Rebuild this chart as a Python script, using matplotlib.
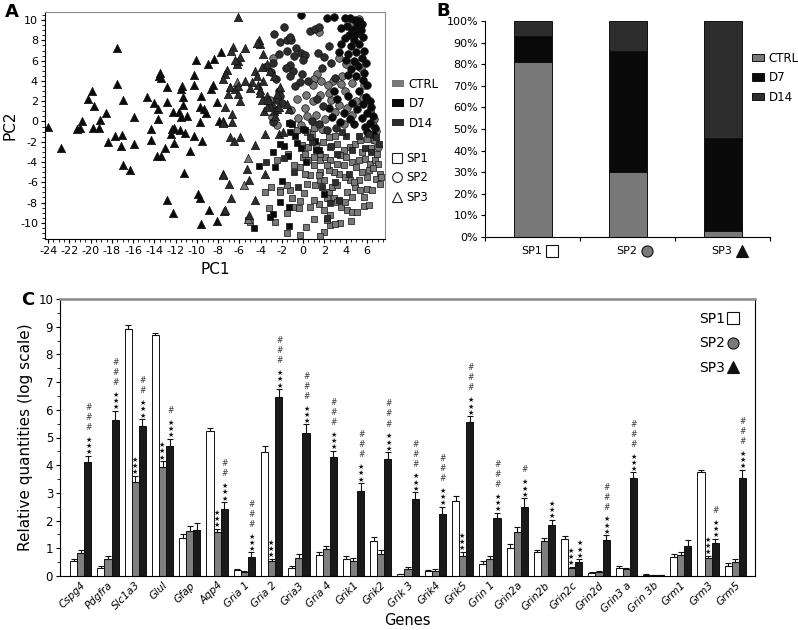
import numpy as np
import matplotlib.pyplot as plt
from matplotlib.lines import Line2D
from matplotlib.patches import Patch
from matplotlib.ticker import MultipleLocator, FuncFormatter
from matplotlib.transforms import blended_transform_factory

plt.rcParams.update({"font.family": "DejaVu Sans", "axes.unicode_minus": False,
                     "xtick.major.size": 3, "ytick.major.size": 3,
                     "xtick.minor.size": 2, "ytick.minor.size": 2,
                     "axes.linewidth": 0.8})

# ---------------- A: PCA scores (PC1, PC2) ----------------
# SP3 (triangles)
sp3_ctrl = np.array([(-6.2, 3.9), (-5.15, -3.57), (-5.56, -6.29), (-6.9, 3.4), (-5.15, -9.67)])
sp3_d7 = np.array([
    (-24.0, -0.56), (-22.77, -2.62), (-21.27, -0.73), (-20.96, -0.66), (-20.8, 0.03),
    (-19.85, 3.05), (-20.23, 2.23), (-19.72, 1.51), (-19.75, -0.69), (-19.16, 0.10),
    (-19.19, -0.62), (-18.53, 0.82), (-18.34, -2.03), (-17.52, 7.21), (-17.52, 3.70),
    (-16.93, 2.13), (-17.74, -1.40), (-17.05, -1.33), (-17.15, -2.47), (-16.99, -4.30),
    (-16.3, -4.79), (-15.92, 0.43), (-15.92, -2.19), (-14.67, 2.46), (-14.0, 1.80),
    (-13.63, 1.18), (-13.63, 0.26), (-14.29, -0.79), (-14.29, -1.80), (-13.5, 4.78),
    (-13.57, 4.45), (-13.41, 4.32), (-12.78, 3.40), (-12.78, 1.93), (-12.21, 0.95),
    (-11.68, 0.95), (-11.52, 3.24), (-11.43, 3.5), (-11.27, 2.46), (-11.33, 1.64),
    (-11.46, 0.43), (-10.95, 0.49), (-12.3, -0.72), (-12.15, -0.62), (-11.58, -0.82),
    (-11.14, -1.15), (-12.46, -1.21), (-12.99, -2.59), (-12.14, -2.13), (-13.73, -3.37),
    (-13.41, -3.44), (-11.2, -5.08), (-10.64, -2.88), (-10.26, -1.47), (-9.57, -1.93),
    (-10.26, 4.55), (-10.32, 3.63), (-10.1, 6.03), (-9.63, 2.52), (-9.75, 1.44),
    (-9.69, -0.03), (-9.32, 1.18), (-9.13, 0.85), (-9.0, 5.7), (-8.41, 6.13),
    (-8.69, 3.17), (-8.53, 3.57), (-8.12, 1.93), (-7.96, 0.07), (-7.58, -0.1),
    (-7.74, 6.82), (-7.58, -5.21), (-12.78, -7.8), (-12.21, -9.0), (-9.88, -7.2),
    (-9.72, -7.6), (-9.63, -10.1), (-8.85, -8.7), (-8.12, -9.8), (-7.43, -8.8)])
sp3_d14 = np.array([
    (-6.09, 10.33), (-6.56, 7.37), (-5.46, 7.24), (-6.82, 6.98), (-4.2, 8.03),
    (-4.05, 7.64), (-4.36, 7.7), (-3.74, 6.66), (-6.09, 6.0), (-5.94, 6.33),
    (-6.25, 5.67), (-6.4, 6.06), (-7.19, 5.08), (-7.35, 4.69), (-4.52, 5.01),
    (-4.36, 4.52), (-3.89, 5.41), (-3.41, 5.67), (-3.1, 5.0), (-2.79, 4.52),
    (-7.57, 4.19), (-7.35, 1.40), (-6.72, 0.75), (-7.5, 0.09), (-6.88, 3.37),
    (-6.41, 3.2), (-6.09, 3.53), (-7.03, 2.71), (-6.09, 2.71), (-5.94, 2.06),
    (-5.46, 4.02), (-4.84, 3.86), (-4.99, 3.3), (-4.21, 3.63), (-4.05, 3.11),
    (-3.74, 4.02), (-4.11, 2.78), (-3.42, 2.55), (-3.89, 2.12), (-3.11, 1.57),
    (-2.79, 1.07), (-2.48, 1.24), (-2.64, 0.58), (-2.23, 1.4), (-1.38, 1.24),
    (-1.54, 1.73), (-2.17, 3.37), (-2.42, 2.71), (-6.72, -0.06), (-7.5, -0.16),
    (-6.88, -1.54), (-6.5, -1.93), (-5.94, -1.54), (-4.52, -2.36), (-5.3, -4.65),
    (-7.5, -5.31), (-6.94, -6.2), (-5.06, -5.8), (-6.82, -7.6), (-7.35, -8.75),
    (-4.52, -7.77), (-5.06, -9.24), (-3.64, -1.21), (-3.58, -5.15), (-2.32, -1.21),
    (-1.91, -1.05), (-3.7, 1.0), (-3.4, 1.4), (-3.3, 2.1)])

# SP2 (circles)
sp2_ctrl = np.array([
    (4.7, 9.7), (5.3, 10.1), (1.5, 8.8), (3.4, 6.3), (4.0, 5.7), (4.9, 5.9), (5.4, 5.3),
    (3.7, 4.5), (2.8, 4.0), (4.6, 3.8), (5.7, 3.6), (1.3, 4.7), (1.0, 4.2), (1.7, 4.0),
    (0.9, 3.6), (2.3, 3.6), (3.9, 3.0), (0.3, 2.6), (0.9, 2.0), (1.6, 2.6), (2.6, 2.1),
    (3.4, 1.6), (4.1, 1.3), (5.0, 2.0), (5.6, 2.3), (6.3, 1.0), (6.7, 0.2), (6.9, -0.9),
    (6.8, -1.8), (7.0, -2.5), (6.6, -0.4), (1.2, 0.6), (2.1, 0.2), (3.0, 0.9), (0.4, 0.5),
    (-0.5, 0.3), (-1.1, 1.1), (-0.2, -0.4), (1.8, -0.7), (3.8, -0.3), (4.6, 0.6),
    (-3.1, 2.1), (-2.8, 6.3), (-2.9, 0.4), (-2.5, -0.4), (-0.6, 2.2), (-1.2, -0.2),
    (0.2, 1.3), (2.4, 2.8), (3.6, 3.7)])
sp2_d7 = np.array([
    (-0.2, 10.5), (2.2, 10.25), (2.9, 10.3), (3.9, 10.2), (4.4, 10.25), (4.9, 10.0),
    (5.3, 9.9), (5.5, 9.6), (5.1, 9.4), (4.1, 9.4), (3.6, 9.2), (4.6, 9.0), (5.4, 9.0),
    (5.0, 8.6), (4.3, 8.5), (3.9, 8.2), (5.6, 8.3), (4.8, 8.0), (5.3, 7.6), (4.5, 7.4),
    (3.6, 7.6), (5.7, 7.0), (5.0, 6.9), (4.2, 6.7), (3.4, 6.9), (5.5, 6.3), (4.8, 6.0),
    (4.0, 6.1), (5.9, 5.8), (5.2, 5.5), (4.5, 5.2), (5.7, 4.8), (5.0, 4.5), (5.6, 4.1),
    (4.2, 4.6), (6.0, 3.6), (5.3, 3.0), (5.9, 2.4), (6.3, 2.0), (5.6, 1.7), (6.4, 1.4),
    (5.1, 1.2), (6.0, 0.8), (6.6, 0.5), (5.5, 0.3), (6.3, -0.2), (6.8, -0.6), (5.8, -0.5),
    (6.6, -1.2), (6.0, -1.0), (4.2, 2.5), (4.6, 1.8), (3.8, 0.8), (4.4, 0.2), (3.5, -0.1),
    (4.8, -0.3), (2.9, 3.0), (3.2, 2.2), (2.4, 1.3), (2.7, 0.4)])
sp2_d14 = np.array([
    (-1.85, 9.35), (-2.7, 8.6), (-2.2, 7.8), (-1.5, 8.0), (-1.1, 8.0), (-1.2, 8.3),
    (0.6, 8.9), (1.1, 9.1), (1.5, 9.3), (-1.5, 7.0), (-0.7, 7.2), (-0.85, 6.5),
    (-0.2, 6.8), (0.2, 6.6), (0.0, 6.1), (-2.3, 6.7), (-2.8, 5.8), (-1.2, 5.6),
    (-1.0, 5.0), (-1.2, 4.5), (-0.1, 4.7), (-0.3, 3.9), (-0.75, 3.5), (-2.3, 3.0),
    (-2.2, 2.55), (-2.5, 2.1), (-2.6, 1.1), (-2.8, -0.1), (-3.6, 5.4), (-3.0, 4.9),
    (-2.6, 4.2), (-1.6, 5.3), (-3.0, 1.6), (-2.0, 1.8), (0.5, 4.0), (1.4, 6.8),
    (2.0, 6.4), (2.4, 7.4), (1.8, 5.3), (2.6, 5.8), (3.0, 4.3), (1.3, 2.2), (1.9, 1.5),
    (0.8, 0.0), (1.5, -0.3), (2.2, -0.8), (3.1, -0.6)])

# SP1 (squares)
sp1_ctrl = np.array([
    (-3.58, -6.95), (-3.04, -6.46), (-5.15, -9.74), (-2.64, -9.9), (-1.54, -11.05),
    (-0.28, -11.21), (0.29, -10.39), (1.92, -10.88), (1.6, -11.31), (2.55, -10.23),
    (2.23, -9.74), (2.55, -9.24), (1.92, -8.75), (1.45, -8.1), (0.98, -7.77), (0.66, -8.49),
    (-0.28, -7.83), (-0.44, -8.59), (0.03, -7.11), (-1.22, -6.79), (-2.17, -6.79),
    (-1.54, -6.29), (-1.07, -7.6), (0.35, -6.13), (1.13, -6.29), (1.6, -5.74), (1.92, -5.8),
    (2.39, -6.95), (2.7, -6.46), (3.18, -6.29), (2.23, -7.51), (2.86, -7.6), (3.18, -7.93),
    (3.55, -8.42), (3.96, -7.93), (4.12, -8.75), (4.59, -8.92), (5.06, -8.92), (5.69, -8.36),
    (4.12, -6.95), (4.59, -7.44), (4.9, -6.46), (5.38, -6.79), (6.0, -6.62), (5.22, -5.74),
    (4.43, -5.74), (3.96, -5.47), (3.33, -5.15), (2.86, -4.98), (2.39, -4.75), (1.6, -4.98),
    (1.45, -5.31), (0.66, -5.31), (0.19, -5.15), (0.98, -4.33), (1.6, -3.83), (2.07, -3.51),
    (2.55, -3.83), (3.18, -4.16), (3.8, -4.33), (4.59, -4.0), (5.22, -3.83), (5.85, -3.67),
    (6.32, -4.16), (6.79, -3.83), (6.95, -3.18), (7.26, -5.15), (6.88, -5.64), (6.0, -5.47),
    (5.53, -4.98), (6.16, -4.75), (2.55, -2.52), (3.18, -2.26), (3.8, -2.85), (4.37, -2.52),
    (4.9, -2.2), (5.38, -1.87), (6.0, -1.7), (6.63, -1.87), (6.79, -1.21), (2.39, -1.54),
    (3.02, -1.47), (1.6, -3.18), (0.98, -3.51), (-0.03, -3.51), (0.41, -3.83), (-0.91, -4.33),
    (-0.28, -4.49), (-0.12, -2.36), (0.41, -2.52), (0.19, -3.18), (-5.0, -9.9), (7.3, -5.5),
    (7.2, -6.2), (6.2, -8.2), (4.5, -9.8), (3.5, -10.0), (3.0, -10.1), (1.0, -9.6),
    (-1.5, -9.0), (-2.2, -7.0), (-3.2, -8.5), (-1.0, -8.4), (6.5, -6.8), (5.7, -7.5),
    (4.8, -6.0), (5.5, -3.0), (6.4, -2.6), (7.0, -4.2), (6.6, -4.6), (5.0, -4.5), (4.0, -3.5),
    (3.5, -3.3), (2.2, -4.3), (1.2, -2.3), (1.9, -2.0), (0.8, -1.2), (-1.4, -3.2),
    (-2.5, -3.8), (-0.6, -0.8), (0.4, -1.0), (1.0, -0.6), (2.0, -0.8)])
sp1_d7 = np.array([
    (-2.17, -2.26), (-2.64, -4.49), (-2.17, -7.93), (-3.11, -9.41), (-2.86, -9.18),
    (-4.62, -10.56), (-1.38, -8.49), (-2.0, -5.87), (-1.38, -10.3), (-1.38, -0.16),
    (-1.07, -0.29), (1.13, -1.93), (1.23, -2.85), (-4.2, -4.4), (-2.8, -3.0),
    (-1.8, -2.4), (-0.8, -1.4), (-0.6, -2.1), (-1.2, -1.0), (0.0, -0.7), (0.2, -0.8),
    (-0.2, -2.6), (0.3, -4.0), (-1.4, -3.4), (1.5, -2.8), (2.0, -7.2)])
sp1_d14 = np.array([
    (2.5, -8.0), (3.4, -7.8), (2.2, -9.5), (-0.5, -6.5), (-1.8, -3.6), (0.8, -2.0),
    (3.2, -3.2), (4.0, -1.4), (5.3, -1.4), (6.2, -1.2), (4.6, -2.8), (5.8, -2.6),
    (6.4, -3.0), (3.0, -6.0), (4.3, -5.2), (-0.9, -5.0), (-3.5, -4.0), (1.8, -6.5),
    (0.6, -1.5), (2.6, -2.4), (3.7, -1.0), (6.9, -1.5), (7.1, -2.2)])

# ---------------- B: composition of subpopulations ----------------
subpops = ["SP1", "SP2", "SP3"]
ctrl_pct = [81, 30, 3]
d7_pct = [12, 56, 43]
d14_pct = [7, 14, 54]

# ---------------- C: qPCR relative quantities ----------------
genes = ["Cspg4", "Pdgfra", "Slc1a3", "Glul", "Gfap", "Aqp4", "Gria 1", "Gria 2", "Gria3",
         "Gria 4", "Grik1", "Grik2", "Grik 3", "Grik4", "Grik5", "Grin 1", "Grin2a", "Grin2b",
         "Grin2c", "Grin2d", "Grin3 a", "Grin 3b", "Grm1", "Grm3", "Grm5"]
sp1_val = [0.55, 0.28, 8.93, 8.70, 1.37, 5.22, 0.20, 4.47, 0.28, 0.75, 0.62, 1.25, 0.06,
           0.18, 2.70, 0.44, 1.00, 0.85, 1.34, 0.11, 0.29, 0.04, 0.70, 3.74, 0.36]
sp2_val = [0.82, 0.62, 3.40, 3.95, 1.62, 1.58, 0.15, 0.53, 0.65, 0.97, 0.55, 0.80, 0.25,
           0.18, 0.73, 0.61, 1.60, 1.26, 0.28, 0.14, 0.25, 0.02, 0.75, 0.64, 0.49]
sp3_val = [4.10, 5.62, 5.42, 4.70, 1.65, 2.42, 0.70, 6.45, 5.15, 4.28, 3.08, 4.22, 2.77,
           2.25, 5.57, 2.09, 2.48, 1.83, 0.50, 1.30, 3.54, 0.02, 1.10, 1.20, 3.54]
sp1_err = [0.08, 0.07, 0.12, 0.06, 0.15, 0.13, 0.06, 0.22, 0.08, 0.13, 0.12, 0.17, 0.03,
           0.05, 0.20, 0.10, 0.15, 0.10, 0.10, 0.03, 0.06, 0.02, 0.10, 0.10, 0.10]
sp2_err = [0.12, 0.12, 0.22, 0.20, 0.20, 0.13, 0.04, 0.10, 0.13, 0.13, 0.10, 0.13, 0.07,
           0.06, 0.15, 0.10, 0.17, 0.10, 0.06, 0.05, 0.05, 0.01, 0.10, 0.10, 0.12]
sp3_err = [0.25, 0.35, 0.25, 0.25, 0.28, 0.25, 0.15, 0.30, 0.32, 0.25, 0.28, 0.25, 0.25,
           0.25, 0.20, 0.20, 0.33, 0.20, 0.10, 0.17, 0.20, 0.01, 0.20, 0.15, 0.30]
# significance marks: stars vs SP1, hashes vs SP2
sp2_stars = [0, 0, 3, 3, 0, 3, 0, 3, 0, 0, 0, 0, 0, 0, 3, 0, 0, 0, 3, 0, 0, 0, 0, 3, 0]
sp3_stars = [3, 3, 3, 3, 0, 3, 3, 3, 3, 3, 3, 3, 3, 3, 3, 3, 3, 3, 3, 3, 3, 0, 0, 3, 3]
sp3_hash = [3, 3, 2, 1, 0, 2, 3, 3, 3, 3, 3, 3, 3, 3, 3, 3, 1, 0, 0, 3, 3, 0, 0, 1, 3]

c_ctrl, c_d7, c_d14 = "#787878", "#0a0a0a", "#2d2d2d"

fig = plt.figure(figsize=(7.98, 6.30), dpi=100)

# ---- A ----
axA = fig.add_axes([45/798, 1-239/630, 340/798, 227/630])
kw = dict(linewidths=0.5, edgecolors="#111111")
for pts, mk, s in [(sp1_ctrl, "s", 24), (sp2_ctrl, "o", 30), (sp3_ctrl, "^", 36)]:
    axA.scatter(pts[:, 0], pts[:, 1], marker=mk, s=s, c=c_ctrl, **kw)
for pts, mk, s in [(sp1_d7, "s", 24), (sp2_d7, "o", 30), (sp3_d7, "^", 36)]:
    axA.scatter(pts[:, 0], pts[:, 1], marker=mk, s=s, c=c_d7, **kw)
for pts, mk, s in [(sp1_d14, "s", 24), (sp2_d14, "o", 30), (sp3_d14, "^", 36)]:
    axA.scatter(pts[:, 0], pts[:, 1], marker=mk, s=s, c=c_d14, **kw)
axA.set_xlim(-24.3, 7.7)
axA.set_ylim(-11.6, 10.8)
axA.set_xticks(np.arange(-24, 7, 2))
axA.set_yticks(np.arange(-10, 11, 2))
axA.xaxis.set_minor_locator(MultipleLocator(0.5))
axA.yaxis.set_minor_locator(MultipleLocator(0.5))
axA.tick_params(which="both", direction="out", labelsize=8, pad=2)
for sp in ["top", "right"]:
    axA.spines[sp].set_color("#8a8a8a")
axA.set_xlabel("PC1", fontsize=11, labelpad=4)
axA.set_ylabel("PC2", fontsize=11, labelpad=2)

h1 = [Patch(facecolor=c, edgecolor="none") for c in (c_ctrl, c_d7, c_d14)]
leg1 = axA.legend(h1, ["CTRL", "D7", "D14"], loc="upper left", frameon=False,
                  bbox_to_anchor=(386/798, 1-72/630), bbox_transform=fig.transFigure,
                  fontsize=8.5, handlelength=1.0, handleheight=0.6, handletextpad=0.4,
                  labelspacing=0.55, borderpad=0)
axA.add_artist(leg1)
h2 = [Line2D([], [], ls="", marker=m, mfc="white", mec="#222222", mew=0.8, ms=7)
      for m in ("s", "o", "^")]
axA.legend(h2, ["SP1", "SP2", "SP3"], loc="upper left", frameon=False,
           bbox_to_anchor=(386/798, 1-146/630), bbox_transform=fig.transFigure,
           fontsize=8.5, handlelength=0.9, handletextpad=0.3, labelspacing=0.55, borderpad=0)

# ---- B ----
axB = fig.add_axes([485/798, 1-237/630, 285/798, 216/630])
xb = np.arange(len(subpops))
ctrl_f = np.array(ctrl_pct) / 100
d7_f = np.array(d7_pct) / 100
d14_f = np.array(d14_pct) / 100
axB.bar(xb, ctrl_f, 0.4, color=c_ctrl, edgecolor="#111111", linewidth=0.7, label="CTRL")
axB.bar(xb, d7_f, 0.4, bottom=ctrl_f, color=c_d7, edgecolor="#111111", linewidth=0.7, label="D7")
axB.bar(xb, d14_f, 0.4, bottom=ctrl_f + d7_f, color=c_d14, edgecolor="#111111",
        linewidth=0.7, label="D14")
axB.set_xlim(-0.5, 2.5)
axB.set_ylim(0, 1)
axB.set_yticks(np.arange(0, 1.01, 0.1))
axB.yaxis.set_major_formatter(FuncFormatter(lambda v, p: f"{v*100:.0f}%"))
axB.set_xticks([-0.5, 0.5, 1.5, 2.5])
axB.set_xticklabels([])
axB.tick_params(direction="out", labelsize=8, pad=2)
axB.spines["top"].set_visible(False)
axB.spines["right"].set_visible(False)
tr = blended_transform_factory(axB.transData, axB.transAxes)
sym = [("s", "white"), ("o", "#7a7a7a"), ("^", "#111111")]
for i, name in enumerate(subpops):
    axB.text(i + 0.1, -0.065, name, transform=tr, ha="right", va="center", fontsize=8)
    axB.plot([i + 0.2], [-0.065], transform=tr, marker=sym[i][0], mfc=sym[i][1],
             mec="#111111", mew=0.8, ms=8, clip_on=False)
axB.legend(loc="upper left", frameon=False, bbox_to_anchor=(746/798, 1-46/630),
           bbox_transform=fig.transFigure, fontsize=8.5, handlelength=1.0,
           handleheight=0.6, handletextpad=0.4, labelspacing=0.55, borderpad=0)

# ---- C ----
axC = fig.add_axes([60/798, 1-576/630, 695/798, 277/630])
xc = np.arange(len(genes))
w = 0.26
sets = [(sp1_val, sp1_err, "white", -w), (sp2_val, sp2_err, "#7f7f7f", 0),
        (sp3_val, sp3_err, "#1a1a1a", w)]
for vals, errs, col, off in sets:
    axC.bar(xc + off, vals, w, color=col, edgecolor="#111111", linewidth=0.7,
            yerr=[np.zeros(len(errs)), errs], capsize=2,
            error_kw=dict(elinewidth=0.8, capthick=0.8, ecolor="#111111"))


def marks(x, top, n_star, n_hash):
    # one text per stack: stars (vs SP1), then hashes (vs SP2) above
    fs = 5
    axC.annotate("\n".join(["\u2605"] * n_star), (x, top), xytext=(0, 0.3),
                 textcoords="offset points", ha="center", va="bottom", fontsize=fs,
                 linespacing=1.05, color="#111111")
    if n_hash:
        h_star = (n_star - 1) * 4.3 + fs * 1.25
        axC.annotate("\n".join(["#"] * n_hash), (x, top), xytext=(0, h_star + 2.2),
                     textcoords="offset points", ha="center", va="bottom", fontsize=5.5,
                     linespacing=1.15, color="#3a3a3a")


for i in range(len(genes)):
    if sp2_stars[i]:
        marks(xc[i] - 0.02, sp2_val[i] + sp2_err[i], sp2_stars[i], 0)
    if sp3_stars[i]:
        marks(xc[i] + w + 0.02, sp3_val[i] + sp3_err[i], sp3_stars[i], sp3_hash[i])

axC.set_xlim(-0.76, 24.72)
axC.set_ylim(0, 10)
axC.set_yticks(range(0, 11))
axC.yaxis.set_minor_locator(MultipleLocator(0.5))
axC.tick_params(axis="y", which="both", direction="out", labelsize=8.5, pad=2)
axC.set_xticks(xc)
axC.set_xticklabels(genes, rotation=45, ha="right", rotation_mode="anchor",
                    fontsize=7.5, style="italic")
axC.tick_params(axis="x", length=0, pad=3)
axC.spines["top"].set_color("#8a8a8a")
axC.spines["top"].set_linewidth(1.8)
axC.set_xlabel("Genes", fontsize=10.5, labelpad=-1)
axC.set_ylabel("Relative quantities (log scale)", fontsize=11, labelpad=4)
h3 = [Line2D([], [], ls="", marker=m, mfc=fc, mec="#111111", mew=0.8, ms=8)
      for m, fc in sym]
axC.legend(h3, subpops, loc="upper right", frameon=False, markerfirst=False,
           bbox_to_anchor=(745/798, 1-305/630), bbox_transform=fig.transFigure,
           fontsize=10, handlelength=0.8, handletextpad=0.15, labelspacing=0.75, borderpad=0)

fig.text(5/798, 1-12/630, "A", fontsize=13, fontweight="bold", va="center")
fig.text(436/798, 1-11/630, "B", fontsize=13, fontweight="bold", va="center")
fig.text(21/798, 1-300/630, "C", fontsize=13, fontweight="bold", va="center")

fig.savefig("out.png", dpi=100)
